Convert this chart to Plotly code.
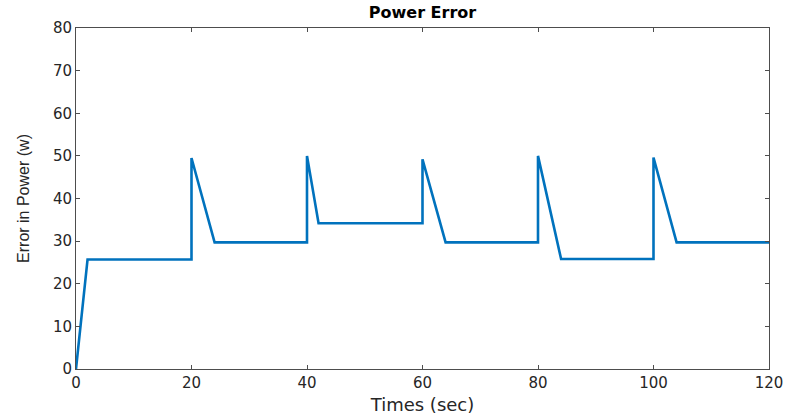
import plotly.graph_objects as go

# Data
time_s = [0, 2, 20, 20, 24, 40, 40, 42, 60, 60, 64, 80, 80, 84, 100, 100, 104, 120]
error_w = [0, 25.7, 25.7, 49.5, 29.7, 29.7, 50.0, 34.2, 34.2, 49.2, 29.7, 29.7, 50.0, 25.8, 25.8, 49.6, 29.7, 29.7]

x_ticks = [0, 20, 40, 60, 80, 100, 120]
y_ticks = [0, 10, 20, 30, 40, 50, 60, 70, 80]

fig = go.Figure()
fig.add_trace(go.Scatter(
    x=time_s, y=error_w, mode="lines",
    line=dict(color="#0072BD", width=2.6),
    showlegend=False, hoverinfo="skip",
))

axis_common = dict(
    showgrid=False, zeroline=False, automargin=False,
    showline=True, linecolor="#4d4d4d", linewidth=1,
    mirror="allticks", ticks="inside", ticklen=4, tickcolor="#4d4d4d",
    tickfont=dict(family="DejaVu Sans", size=15, color="#262626"),
)

fig.update_xaxes(
    range=[0, 120], tickvals=x_ticks, ticktext=[str(v) for v in x_ticks],
    title=dict(text="Times (sec)", font=dict(family="DejaVu Sans", size=18, color="#262626"), standoff=7),
    **axis_common,
)
fig.update_yaxes(
    range=[0, 80], tickvals=y_ticks, ticktext=[str(v) for v in y_ticks],
    title=dict(text="Error in Power (w)", font=dict(family="Liberation Sans", size=16, color="#262626"), standoff=19),
    **axis_common,
)

fig.update_layout(
    width=790, height=417,
    margin=dict(l=76, r=21, t=28, b=48),
    paper_bgcolor="white", plot_bgcolor="white",
    title=dict(
        text="<b>Power Error</b>",
        font=dict(family="DejaVu Sans", size=16, color="#000000"),
        x=422.5 / 790, xanchor="center",
        y=1 - 12 / 417, yanchor="middle",
    ),
)

fig.write_html("out.html")
